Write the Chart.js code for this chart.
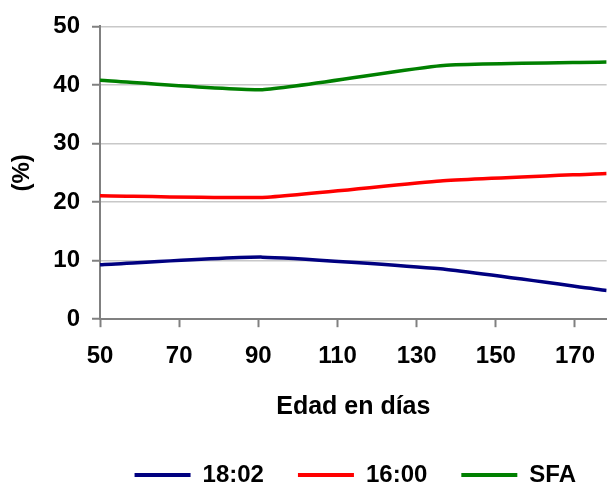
<!DOCTYPE html>
<html>
<head>
<meta charset="utf-8">
<script src="https://cdn.jsdelivr.net/npm/chart.js@4/dist/chart.umd.min.js"></script>
<style>
  html, body { margin: 0; padding: 0; background: #fff; }
  #wrap { width: 610px; height: 483px; }
</style>
</head>
<body>
<div id="wrap"><canvas id="myChart" width="610" height="483"></canvas></div>
<script>
// edad en dias (eje x)
var dias = [50, 91, 136, 178];
// series (%)
var serie1802 = [9.3, 10.6, 8.6, 4.9];
var serie1600 = [21.1, 20.8, 23.6, 24.9];
var serieSFA = [40.8, 39.2, 43.3, 43.9];
var nombres = ["18:02", "16:00", "SFA"];
var colores = ["#000080", "#ff0000", "#008000"];
var xTicks = [50, 70, 90, 110, 130, 150, 170];

function puntos(vals) {
  return dias.map(function (d, i) {
    return { x: d, y: vals[i] };
  });
}

var fuente = "'Liberation Sans', Arial, sans-serif";

var ctx = document.getElementById("myChart").getContext("2d");
var myChart = new Chart(ctx, {
  type: "line",
  data: {
    datasets: [serie1802, serie1600, serieSFA].map(function (vals, i) {
      return {
        label: nombres[i],
        data: puntos(vals),
        borderColor: colores[i],
        backgroundColor: colores[i],
        borderWidth: 3.5,
        pointRadius: 0,
        tension: 0.15,
        fill: false,
      };
    }),
  },
  options: {
    responsive: false,
    animation: false,
    layout: { padding: { top: 24, right: 0, left: 8, bottom: -14 } },
    plugins: {
      tooltip: { enabled: false },
      legend: {
        position: "bottom",
        align: "end",
        labels: {
          color: "#000",
          font: { family: fuente, size: 24, weight: "bold" },
          boxWidth: 56,
          boxHeight: 4,
          padding: 34,
          generateLabels: function (chart) {
            return chart.data.datasets.map(function (ds, i) {
              return {
                text: ds.label,
                fillStyle: ds.borderColor,
                strokeStyle: ds.borderColor,
                lineWidth: 0,
                datasetIndex: i,
                fontColor: "#000",
              };
            });
          },
        },
      },
    },
    scales: {
      x: {
        type: "linear",
        min: 50,
        max: 178,
        afterBuildTicks: function (axis) {
          axis.ticks = xTicks.map(function (v) {
            return { value: v };
          });
        },
        ticks: {
          color: "#000",
          font: { family: fuente, size: 24, weight: "bold" },
          padding: 15,
          maxRotation: 0,
          autoSkip: false,
        },
        grid: {
          drawOnChartArea: false,
          drawTicks: true,
          tickLength: 8,
          tickColor: "#808080",
          tickWidth: 2,
        },
        border: { color: "#808080", width: 2 },
        title: {
          display: true,
          text: "Edad en días",
          color: "#000",
          font: { family: fuente, size: 25, weight: "bold" },
          padding: { top: 6, bottom: 7 },
        },
      },
      y: {
        min: 0,
        max: 50,
        ticks: {
          stepSize: 10,
          color: "#000",
          font: { family: fuente, size: 24, weight: "bold" },
          padding: 12,
        },
        grid: {
          color: "#c8c8c8",
          lineWidth: 1.5,
          tickLength: 8,
          tickColor: "#808080",
          tickWidth: 2,
        },
        border: { color: "#808080", width: 2 },
        title: {
          display: true,
          text: "(%)",
          color: "#000",
          font: { family: fuente, size: 24, weight: "bold" },
          padding: { top: 0, bottom: 16 },
        },
        afterFit: function (axis) {
          axis.width = 92;
        },
      },
    },
  },
});
</script>
</body>
</html>
